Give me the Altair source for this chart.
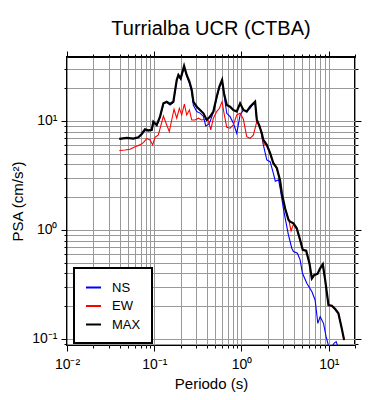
import altair as alt
import pandas as pd

# ---- data ----
periodo_max = [0.0398, 0.0483, 0.0577, 0.0658, 0.0718, 0.0783, 0.0857, 0.0935, 0.0977, 0.1067,
               0.1165, 0.1274, 0.139, 0.1517, 0.1656, 0.181, 0.189, 0.201, 0.2198, 0.2355,
               0.253, 0.269, 0.281, 0.307, 0.335, 0.366, 0.400, 0.4365, 0.476, 0.520,
               0.558, 0.599, 0.631, 0.678, 0.740, 0.807, 0.883, 0.964, 1.052, 1.148,
               1.255, 1.371, 1.432, 1.50, 1.58, 1.71, 1.78, 1.95, 2.13, 2.32,
               2.54, 2.77, 2.90, 3.16, 3.45, 3.61, 3.94, 4.30, 4.70, 5.04,
               5.51, 6.01, 6.40, 6.81, 7.43, 7.97, 8.55, 9.10, 9.93, 10.85,
               11.85, 12.9, 14.1, 15.0]
psa_max = [6.84, 6.98, 6.89, 7.08, 7.60, 8.39, 8.21, 8.27, 9.86, 9.19,
           10.95, 14.5, 15.0, 14.3, 15.0, 23.8, 26.4, 24.6, 32.0, 26.4,
           22.9, 19.2, 15.0, 13.5, 12.6, 11.75, 10.2, 10.95, 12.2, 16.7,
           20.7, 23.8, 17.9, 14.0, 13.5, 12.6, 12.2, 14.5, 12.6, 12.2,
           13.5, 14.5, 15.0, 10.2, 9.3, 7.71, 6.70, 6.03, 5.06, 4.09,
           3.71, 2.85, 2.17, 1.58, 1.24, 1.19, 1.15, 1.035, 0.81, 0.656,
           0.646, 0.494, 0.36, 0.386, 0.395, 0.445, 0.484, 0.348, 0.205, 0.202,
           0.188, 0.172, 0.125, 0.098]

periodo_ns = [0.0398, 0.0483, 0.0577, 0.0658, 0.0718, 0.0783, 0.0857, 0.0935, 0.0977, 0.1067,
              0.1165, 0.1274, 0.139, 0.1517, 0.1656, 0.181, 0.189, 0.201, 0.2198, 0.2355,
              0.253, 0.269, 0.281, 0.307, 0.335, 0.366, 0.389, 0.418, 0.4365, 0.476,
              0.520, 0.558, 0.599, 0.640, 0.678, 0.740, 0.807, 0.883, 0.964, 1.052,
              1.148, 1.255, 1.371, 1.432, 1.497, 1.634, 1.78, 1.95, 2.13, 2.32,
              2.44, 2.66, 2.80, 3.03, 3.16, 3.45, 3.77, 3.94, 4.375, 4.70,
              5.00, 5.605, 6.40, 6.98, 7.50, 7.97, 8.71, 9.33, 10.0, 10.85,
              11.5, 12.15, 12.7, 13.5]
psa_ns = [6.84, 6.98, 6.89, 7.08, 7.50, 8.20, 8.10, 8.20, 9.70, 9.10,
          10.8, 14.3, 14.8, 14.0, 14.8, 23.2, 25.8, 24.0, 31.2, 25.8,
          22.3, 18.5, 13.9, 12.2, 11.8, 11.0, 9.0, 9.3, 9.86, 12.0,
          16.3, 20.2, 23.3, 16.0, 11.75, 10.95, 9.52, 7.71, 11.35, 12.6,
          12.35, 13.06, 14.5, 14.8, 9.86, 8.87, 6.03, 4.39, 4.23, 3.31,
          2.80, 2.88, 2.30, 1.55, 1.30, 0.90, 0.68, 0.633, 0.611, 0.531,
          0.400, 0.324, 0.272, 0.228, 0.139, 0.160, 0.139, 0.105, 0.085, 0.084,
          0.0913, 0.0946, 0.086, 0.075]

periodo_ew = [0.0398, 0.0462, 0.0528, 0.0603, 0.0687, 0.0750, 0.0820, 0.0895, 0.0959, 0.102,
              0.1114, 0.1197, 0.1274, 0.139, 0.149, 0.1585, 0.1686, 0.181, 0.194, 0.2065,
              0.2215, 0.2355, 0.253, 0.269, 0.294, 0.321, 0.350, 0.383, 0.418, 0.444,
              0.476, 0.520, 0.558, 0.599, 0.631, 0.678, 0.740, 0.807, 0.883, 0.964,
              1.052, 1.148, 1.255, 1.371, 1.497, 1.634, 1.78, 1.95, 2.13, 2.32,
              2.54, 2.77, 2.90, 3.16, 3.45, 3.70, 3.94, 4.30, 4.70, 5.04,
              5.51, 6.01, 6.40, 6.81, 7.43, 7.97, 8.55, 9.10, 9.93, 10.85,
              11.85, 12.9, 14.1, 15.0]
psa_ew = [5.35, 5.42, 5.50, 5.81, 6.03, 6.33, 6.89, 6.70, 6.03, 7.08,
          7.44, 9.19, 11.1, 9.19, 7.98, 10.2, 12.8, 10.6, 13.06, 11.35,
          14.3, 11.35, 12.6, 10.2, 10.2, 10.6, 10.2, 10.35, 10.07, 8.27,
          10.6, 12.2, 13.06, 15.0, 11.75, 8.75, 8.57, 9.19, 11.35, 11.75,
          10.35, 7.18, 6.93, 7.44, 9.86, 8.87, 6.24, 5.9, 5.0, 4.05,
          3.65, 2.80, 2.10, 1.55, 1.28, 0.98, 1.13, 1.02, 0.80, 0.650,
          0.640, 0.490, 0.355, 0.383, 0.392, 0.440, 0.480, 0.345, 0.203, 0.200,
          0.186, 0.170, 0.124, 0.097]

series_names = ["NS", "EW", "MAX"]
series_colors = ["#0000ff", "#ff0000", "#000000"]

x_ticks = [0.01, 0.02, 0.03, 0.04, 0.05, 0.06, 0.07, 0.08, 0.09,
           0.1, 0.2, 0.3, 0.4, 0.5, 0.6, 0.7, 0.8, 0.9,
           1, 2, 3, 4, 5, 6, 7, 8, 9, 10, 20]
y_ticks = [0.09, 0.1, 0.2, 0.3, 0.4, 0.5, 0.6, 0.7, 0.8, 0.9,
           1, 2, 3, 4, 5, 6, 7, 8, 9, 10, 20, 30]
x_domain = [0.01, 20]
y_domain = [0.088, 38.6]

rows = []
for name, ts, vs in [("NS", periodo_ns, psa_ns), ("EW", periodo_ew, psa_ew), ("MAX", periodo_max, psa_max)]:
    for t, v in zip(ts, vs):
        rows.append({"serie": name, "periodo": t, "psa": v})
df = pd.DataFrame(rows)

FONT = "Liberation Sans"
major_test = "datum.value == 0.01 || datum.value == 0.1 || datum.value == 1 || datum.value == 10"
label_expr = ("datum.value == 0.01 ? '10\u207b\u00b2' : datum.value == 0.1 ? '10\u207b\u00b9' : "
              "datum.value == 1 ? '10\u2070' : datum.value == 10 ? '10\u00b9' : ''")
tick_size = {"condition": {"test": major_test, "value": 6}, "value": 3}

x_bottom = alt.Axis(values=x_ticks, labelExpr=label_expr, grid=True, gridColor="#999999",
                    gridWidth=1, domain=False, tickColor="black", tickSize=tick_size,
                    labelFont=FONT, labelFontSize=14, labelColor="black", labelFlush=False,
                    labelOverlap=False, labelPadding=6, title="Periodo (s)", titleFont=FONT,
                    titleFontSize=15, titleFontWeight="normal", titleColor="black", titlePadding=5)
y_left = alt.Axis(values=y_ticks, labelExpr=label_expr, grid=True, gridColor="#999999",
                  gridWidth=1, domain=False, tickColor="black", tickSize=tick_size,
                  labelFont=FONT, labelFontSize=14, labelColor="black", labelFlush=False,
                  labelOverlap=False, labelPadding=4, title="PSA (cm/s\u00b2)", titleFont=FONT,
                  titleFontSize=15, titleFontWeight="normal", titleColor="black", titlePadding=6)
x_top = alt.Axis(orient="top", values=x_ticks, labels=False, grid=False, domain=False,
                 tickColor="black", tickSize=tick_size, title=None)
y_right = alt.Axis(orient="right", values=y_ticks, labels=False, grid=False, domain=False,
                   tickColor="black", tickSize=tick_size, title=None)

legend = alt.Legend(orient="none", legendX=7, legendY=211, title=None, symbolType="stroke",
                    symbolSize=225, symbolStrokeWidth=2, labelFont=FONT, labelFontSize=13,
                    labelColor="black", labelOffset=10, padding=11, rowPadding=2.5,
                    strokeColor="black", fillColor="white",
                    labelExpr="datum.label + '\u00a0\u00a0\u00a0\u00a0\u00a0'")

xs = alt.Scale(type="log", domain=x_domain)
ys = alt.Scale(type="log", domain=y_domain)

base = alt.Chart(df).encode(
    x=alt.X("periodo:Q", scale=xs, axis=x_bottom),
    y=alt.Y("psa:Q", scale=ys, axis=y_left),
    color=alt.Color("serie:N", scale=alt.Scale(domain=series_names, range=series_colors), legend=legend),
)
ns = base.transform_filter(alt.datum.serie == "NS").mark_line(strokeWidth=1.1, clip=True)
ew = base.transform_filter(alt.datum.serie == "EW").mark_line(strokeWidth=1.1, clip=True)
mx = base.transform_filter(alt.datum.serie == "MAX").mark_line(strokeWidth=2.2, clip=True)
lines = alt.layer(ns, ew, mx)

frame_axes = alt.Chart(df).mark_line(opacity=0).encode(
    x=alt.X("periodo:Q", scale=xs, axis=x_top),
    y=alt.Y("psa:Q", scale=ys, axis=y_right),
)

chart = alt.layer(lines, frame_axes).resolve_axis(x="independent", y="independent").properties(
    width=288, height=288,
    padding={"left": 59, "top": 49, "right": 20, "bottom": 47},
    autosize=alt.AutoSizeParams(type="none"),
    title=alt.TitleParams("Turrialba UCR (CTBA)", font=FONT, fontSize=20, fontWeight="normal",
                          color="black", offset=12, anchor="middle"),
).configure_view(stroke="black", strokeWidth=2).configure_legend(strokeWidth=2)

chart.save("out.html", embed_options={"renderer": "svg", "actions": False})
